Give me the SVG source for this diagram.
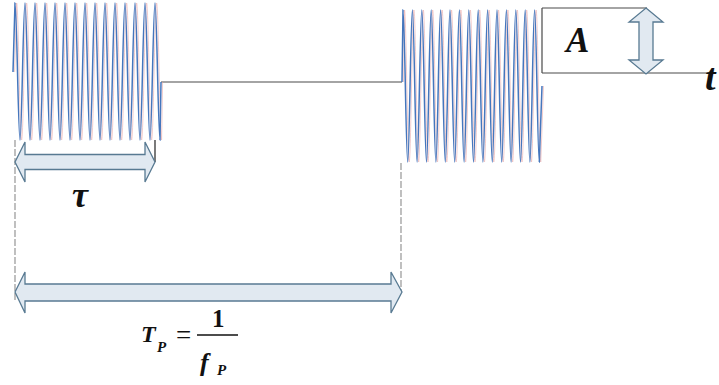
<svg xmlns="http://www.w3.org/2000/svg" width="719" height="385" viewBox="0 0 719 385">
<style>
.wave{fill:none;stroke:#4576bd;stroke-width:1.5}
.wavep{fill:none;stroke:#e6a3a3;stroke-width:1;opacity:0.55}
.line{fill:none;stroke:#4a4a4a;stroke-width:1.2}
.guide{fill:none;stroke:#8c8c8c;stroke-width:1.1;stroke-dasharray:7,2}
.arrow{fill:#e1e9f1;stroke:#587a92;stroke-width:1.3;stroke-linejoin:miter}
.lbl{font-family:'Liberation Serif','Times New Roman',serif;font-weight:bold;font-style:italic;fill:#111}
.num{font-family:'Liberation Serif','Times New Roman',serif;font-weight:bold;fill:#111}
</style>
<defs>
<path id="w1" d="M13,72 L15,3 c1.82,0 3.18,137 5,137 s3.18,-137 5,-137 s3.18,137 5,137 s3.18,-137 5,-137 s3.18,137 5,137 s3.18,-137 5,-137 s3.18,137 5,137 s3.18,-137 5,-137 s3.18,137 5,137 s3.18,-137 5,-137 s3.18,137 5,137 s3.18,-137 5,-137 s3.18,137 5,137 s3.18,-137 5,-137 s3.18,137 5,137 s3.18,-137 5,-137 s3.18,137 5,137 s3.18,-137 5,-137 s3.18,137 5,137 s3.18,-137 5,-137 s3.18,137 5,137 s3.18,-137 5,-137 s3.18,137 5,137 s3.18,-137 5,-137 s3.18,137 5,137 s3.18,-137 5,-137 s3.18,137 5,137 s3.18,-137 5,-137 s3.18,137 5,137 L161,82"/>
<path id="w2" d="M402,82 L403,10 c1.71,0 2.99,152 4.7,152 s2.99,-152 4.7,-152 s2.99,152 4.7,152 s2.99,-152 4.7,-152 s2.99,152 4.7,152 s2.99,-152 4.7,-152 s2.99,152 4.7,152 s2.99,-152 4.7,-152 s2.99,152 4.7,152 s2.99,-152 4.7,-152 s2.99,152 4.7,152 s2.99,-152 4.7,-152 s2.99,152 4.7,152 s2.99,-152 4.7,-152 s2.99,152 4.7,152 s2.99,-152 4.7,-152 s2.99,152 4.7,152 s2.99,-152 4.7,-152 s2.99,152 4.7,152 s2.99,-152 4.7,-152 s2.99,152 4.7,152 s2.99,-152 4.7,-152 s2.99,152 4.7,152 s2.99,-152 4.7,-152 s2.99,152 4.7,152 s2.99,-152 4.7,-152 s2.99,152 4.7,152 s2.99,-152 4.7,-152 s2.99,152 4.7,152 L542,86"/>
</defs>
<rect width="719" height="385" fill="#fff"/>
<g id="connectors">
<path class="line" d="M161,82 H402"/>
<path class="line" d="M542,8 H647 M542,8 V73 M542,73 H708"/>
<path class="guide" d="M15,140 V300"/>
<path class="guide" d="M401,163 V292"/>
<path class="line" d="M155,140 V162" style="stroke:#222"/>
</g>
<g id="burst-1">
<use href="#w1" class="wavep" transform="translate(1.6,0)"/>
<use href="#w1" class="wave"/>
</g>
<g id="burst-2">
<use href="#w2" class="wavep" transform="translate(1.5,0)"/>
<use href="#w2" class="wave"/>
</g>
<g id="tau-arrow">
<polygon class="arrow" points="15,162 25,142 25,154.5 145,154.5 145,142 155,162 145,182 145,169.5 25,169.5 25,182"/>
<text class="lbl" x="72" y="207" font-size="36">τ</text>
</g>
<g id="period-arrow">
<polygon class="arrow" points="15,292 25,272 25,284 391,284 391,272 402,292 391,313 391,301 25,301 25,313"/>
</g>
<g id="amplitude-arrow">
<polygon class="arrow" points="646,8 663,22 653,22 653,60 663,60 646,74 629,60 639,60 639,22 629,22"/>
<text class="lbl" x="566" y="52" font-size="35">A</text>
</g>
<g id="axis-label">
<text class="lbl" x="705" y="90" font-size="38">t</text>
</g>
<g id="period-label">
<text class="lbl" x="141" y="342" font-size="24">T</text>
<text class="lbl" x="157" y="352" font-size="15">P</text>
<text class="num" x="176" y="344" font-size="27" style="font-weight:normal">=</text>
<text class="num" x="212" y="327" font-size="25">1</text>
<path d="M197,335 H238" stroke="#111" stroke-width="1.3"/>
<text class="lbl" x="200" y="371" font-size="26">f</text>
<text class="lbl" x="217" y="375" font-size="15">P</text>
</g>
</svg>
